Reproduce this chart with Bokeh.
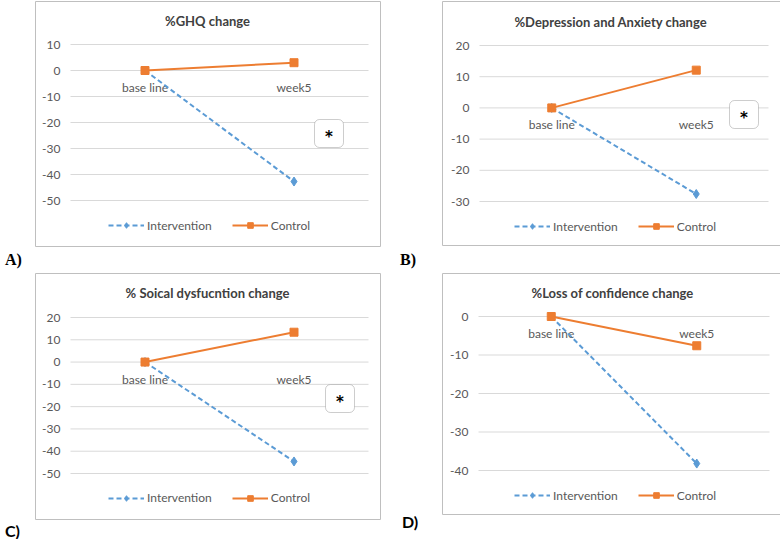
from bokeh.plotting import figure
from bokeh.models import (Range1d, FixedTicker, Label, Legend,
                          LegendItem, BoxAnnotation, ColumnDataSource, Div,
                          Spacer, PrintfTickFormatter)
from bokeh.layouts import column, row
from bokeh.embed import file_html
from bokeh.resources import INLINE
from bokeh.core.properties import value

# ---------------- data ----------------
categories = ["base line", "week5"]
series_names = ["Intervention", "Control"]

ghq_intervention = [0, -42.7]
ghq_control = [0, 3.0]
dep_intervention = [0, -27.6]
dep_control = [0, 12.1]
soc_intervention = [0, -44.6]
soc_control = [0, 13.4]
conf_intervention = [0, -38.2]
conf_control = [0, -7.6]

titles = ["%GHQ change", "%Depression and Anxiety  change",
          "% Soical dysfucntion change", "%Loss of confidence change"]
ghq_ticks = [-50, -40, -30, -20, -10, 0, 10]
dep_ticks = [-30, -20, -10, 0, 10, 20]
soc_ticks = [-50, -40, -30, -20, -10, 0, 10, 20]
conf_ticks = [-40, -30, -20, -10, 0]
panel_letters = ["A)", "B)", "C)", "D)"]
star_text = "*"

# ---------------- style ----------------
BLUE = "#5B9BD5"
ORANGE = "#ED7D31"
TXT = "#595959"
FONT = "Lato"


def make_panel(W, H, plot_lr, tick_px, title, ticks, inter, ctrl, title_xy,
               legend_xy, star_box):
    """W,H: chart-area box size; plot_lr: plot-area left/right inside box;
    tick_px: pixel rows (from box top) of the top and bottom tick."""
    B = 1  # border of canvas around the frame (frame outline = chart box)
    FW, FH = W - 2 * B, H - 2 * B
    pl, pr = plot_lr[0] - B, plot_lr[1] - B
    t_top, t_bot = tick_px[0] - B, tick_px[1] - B
    n = len(categories)
    xs = list(range(n))
    x_lo, x_hi = -0.5, n - 0.5          # plot-area extent in category units
    upx = (x_hi - x_lo) / (pr - pl)
    hi, lo = max(ticks), min(ticks)
    upp = (hi - lo) / (t_bot - t_top)
    p = figure(width=W, height=H,
               x_range=Range1d(x_lo - pl * upx, x_hi + (FW - pr) * upx),
               y_range=Range1d(lo - (FH - t_bot) * upp, hi + t_top * upp),
               output_backend="svg", toolbar_location=None, tools="",
               min_border_left=B, min_border_right=B,
               min_border_top=B, min_border_bottom=B)
    p.outline_line_color = "#bfbfbf"
    p.outline_line_width = 1
    p.xaxis.visible = False
    p.xgrid.visible = False
    p.ygrid.visible = False
    ax = p.yaxis[0]
    ax.fixed_location = x_lo
    ax.ticker = FixedTicker(ticks=ticks)
    ax.formatter = PrintfTickFormatter(format="%d")
    ax.axis_line_color = None
    ax.major_tick_line_color = None
    ax.minor_tick_line_color = None
    ax.major_tick_out = 0
    ax.major_tick_in = 0
    ax.major_label_standoff = 10
    ax.major_label_text_font = FONT
    ax.major_label_text_font_size = "12px"
    ax.major_label_text_color = TXT

    def sx(x):
        return x - B

    def sy(y):
        return (H - B) - y

    # horizontal gridlines across the plot area
    p.segment(x0=[x_lo] * len(ticks), x1=[x_hi] * len(ticks), y0=ticks, y1=ticks,
              line_color="#d9d9d9", line_width=1)

    # category labels (axis crosses at 0)
    p.text(x=xs, y=[0] * n, text=categories, text_align="center",
           text_baseline="middle", y_offset=17, text_font=value(FONT),
           text_font_size="12px", text_color=TXT)

    si = ColumnDataSource(dict(x=xs, y=inter))
    sc = ColumnDataSource(dict(x=xs, y=ctrl))
    r1 = p.line("x", "y", source=si, line_color=BLUE, line_width=2, line_dash="5 3")
    r2 = p.scatter("x", "y", source=si, marker="diamond", size=9,
                   fill_color=BLUE, line_color=BLUE)
    r3 = p.line("x", "y", source=sc, line_color=ORANGE, line_width=2)
    r4 = p.scatter("x", "y", source=sc, marker="square", size=8,
                   fill_color=ORANGE, line_color=ORANGE)

    lx, ly = legend_xy
    legend = Legend(items=[LegendItem(label=series_names[0], renderers=[r1, r2]),
                           LegendItem(label=series_names[1], renderers=[r3, r4])],
                    orientation="horizontal", location=(sx(lx), sy(ly) - 7),
                    border_line_color=None, background_fill_alpha=0,
                    padding=0, margin=0, spacing=20, label_standoff=3,
                    glyph_width=36, glyph_height=14, label_height=14,
                    label_text_font=FONT, label_text_font_size="12px",
                    label_text_color=TXT)
    p.add_layout(legend)

    tx, ty = title_xy
    p.add_layout(Label(x=sx(tx), y=sy(ty), x_units="screen", y_units="screen",
                       text=title, text_align="center", text_baseline="middle",
                       text_font=FONT, text_font_style="bold",
                       text_font_size="13px", text_color="#404040"))

    if star_box is not None:
        s0, s1, t0, t1 = star_box
        p.add_layout(BoxAnnotation(left=sx(s0), right=sx(s1), top=sy(t0), bottom=sy(t1),
                                   left_units="screen", right_units="screen",
                                   top_units="screen", bottom_units="screen",
                                   fill_color="white", fill_alpha=1,
                                   line_color="#595959", line_width=1,
                                   border_radius=5))
        p.add_layout(Label(x=sx((s0 + s1) / 2), y=sy((t0 + t1) / 2 + 3),
                           x_units="screen", y_units="screen", text=star_text,
                           text_align="center", text_baseline="middle",
                           text_font="DejaVu Sans", text_font_style="bold",
                           text_font_size="15px", text_color="black"))
    return p


def letter(text, font, w, h):
    return Div(text=text, width=w, height=h,
               styles={"font-family": font, "font-weight": "bold",
                       "font-size": "16px", "line-height": "15px", "color": "black"})


pA = make_panel(347, 247, (36, 334), (44, 200), titles[0], ghq_ticks,
                ghq_intervention, ghq_control, (173, 20), (74, 225.5),
                (280, 309, 119, 147))
pB = make_panel(342, 246, (38, 327), (45, 201), titles[1], dep_ticks,
                dep_intervention, dep_control, (171, 21), (73, 226.5),
                (288, 317, 100, 128))
pC = make_panel(347, 248, (36, 334), (45, 201), titles[2], soc_ticks,
                soc_intervention, soc_control, (173, 20), (74, 226),
                (291, 320, 112, 140))
pD = make_panel(342, 243, (37, 328), (44, 198), titles[3], conf_ticks,
                conf_intervention, conf_control, (171, 20), (73, 223.5),
                None)

colA = column(Spacer(width=24, height=247), letter(panel_letters[0], "Liberation Serif", 24, 15))
gapB = column(Spacer(width=50, height=247),
              row(Spacer(width=14, height=15), letter(panel_letters[1], "Liberation Serif", 36, 15)))
colC = column(Spacer(width=24, height=246), letter(panel_letters[2], FONT, 24, 15))
gapD = column(Spacer(width=50, height=237),
              row(Spacer(width=16, height=15), letter(panel_letters[3], FONT, 34, 15)))

layout = column(row(colA, pA, gapB, pB), row(colC, pC, gapD, pD))
open("out.html", "w").write(file_html(layout, INLINE))
